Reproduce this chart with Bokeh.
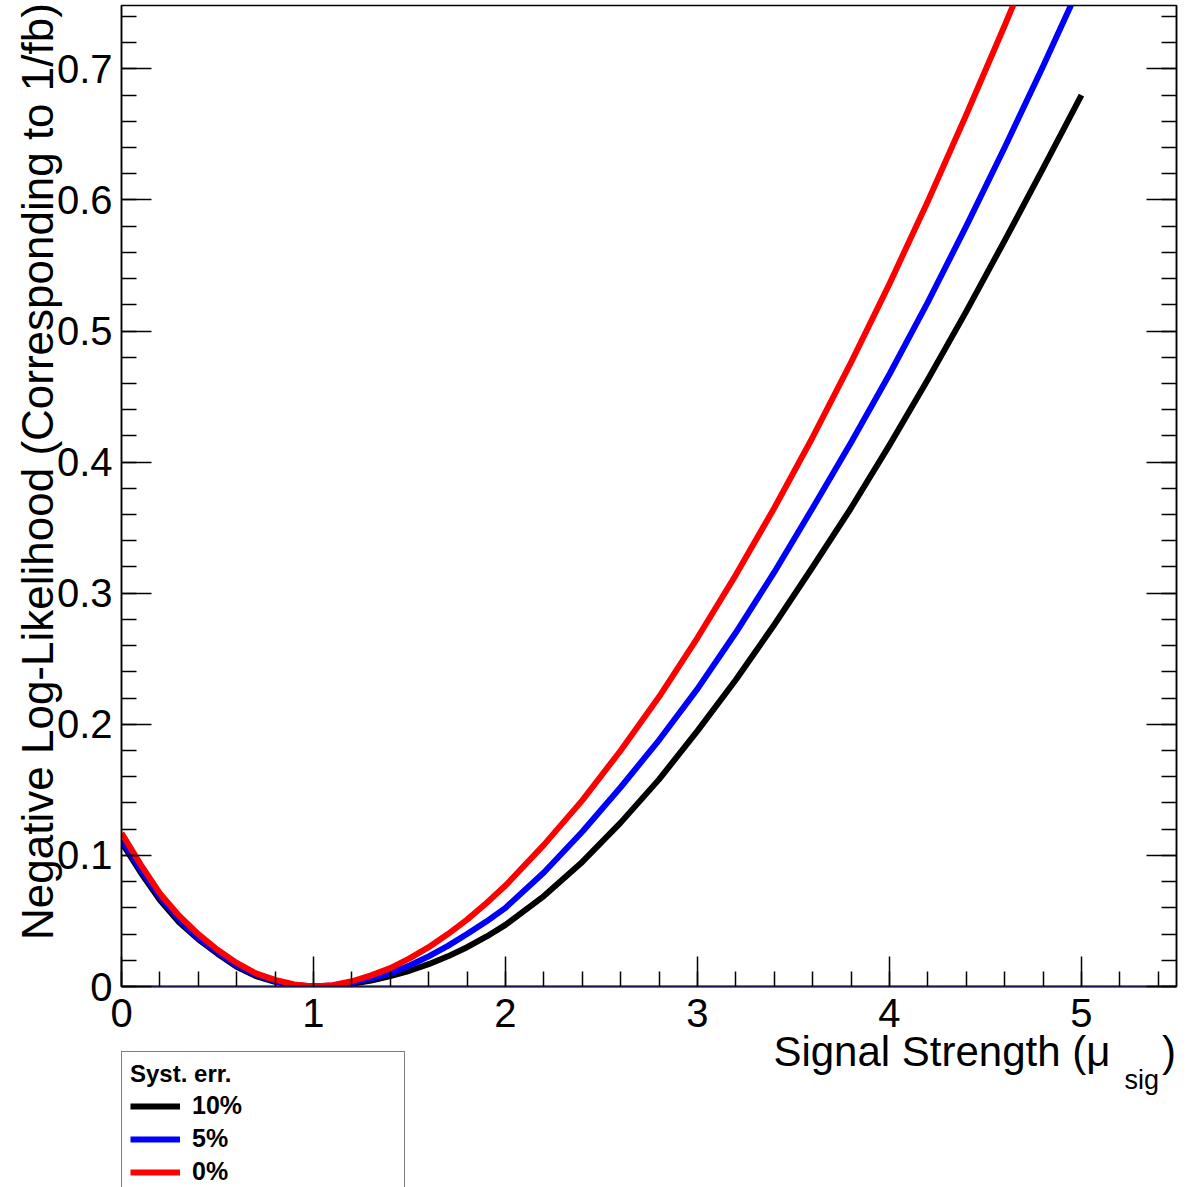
from bokeh.plotting import figure
from bokeh.layouts import column
from bokeh.models import (Range1d, LinearAxis, SingleIntervalTicker, Legend,
                          LegendItem, Label)
from bokeh.embed import file_html
from bokeh.resources import INLINE

# ---- data ----
mu = [0.0, 0.1, 0.2, 0.3, 0.4, 0.5, 0.6, 0.7, 0.8, 0.9, 1.0,
      1.1, 1.2, 1.3, 1.4, 1.5, 1.6, 1.7, 1.8, 1.9, 2.0,
      2.2, 2.4, 2.6, 2.8, 3.0, 3.2, 3.4, 3.6, 3.8, 4.0,
      4.2, 4.4, 4.6, 4.8, 5.0]

nll_syst10 = [0.110, 0.087, 0.066, 0.049, 0.036, 0.025, 0.015, 0.008, 0.0035, 0.001, 0.0,
              0.0005, 0.002, 0.0045, 0.008, 0.012, 0.017, 0.023, 0.030, 0.038, 0.047,
              0.069, 0.095, 0.125, 0.158, 0.195, 0.234, 0.276, 0.320, 0.365, 0.413,
              0.463, 0.515, 0.569, 0.624, 0.680]

nll_syst5 = [0.112, 0.089, 0.068, 0.051, 0.037, 0.026, 0.016, 0.009, 0.004, 0.001, 0.0,
             0.0008, 0.003, 0.006, 0.010, 0.016, 0.023, 0.031, 0.040, 0.0495, 0.060,
             0.087, 0.118, 0.152, 0.188, 0.227, 0.270, 0.316, 0.365, 0.415, 0.467,
             0.522, 0.580, 0.640, 0.702, 0.766]

nll_syst0 = [0.117, 0.093, 0.071, 0.054, 0.040, 0.028, 0.018, 0.010, 0.005, 0.0015, 0.0,
             0.001, 0.004, 0.0085, 0.014, 0.0215, 0.030, 0.040, 0.051, 0.0635, 0.077,
             0.108, 0.142, 0.180, 0.221, 0.266, 0.314, 0.365, 0.419, 0.476, 0.536,
             0.599, 0.665, 0.733, 0.803, 0.875]

series_labels = ["10%", "5%", "0%"]
series_colors = ["#000000", "#0000ff", "#ff0000"]
legend_title = "Syst. err."
x_title = "Signal Strength (\u03bc"
x_title_sub = "sig"
x_title_close = ")"
y_title = "Negative Log-Likelihood (Corresponding to 1/fb)"

FONT = "Liberation Sans"
NBSP = "\u00a0"

# ---------------- main plot ----------------
H1 = 1044
p = figure(width=1199, height=H1, output_backend="svg", toolbar_location=None,
           title=None,
           x_range=Range1d(0, 5.495), y_range=Range1d(0, 0.7483),
           min_border_left=121, min_border_right=23, min_border_top=5,
           min_border_bottom=H1 - 986)
p.background_fill_color = "white"
p.border_fill_color = "white"
p.outline_line_color = "black"
p.outline_line_width = 1.5
p.xgrid.visible = False
p.ygrid.visible = False

xa = p.xaxis[0]
xa.ticker = SingleIntervalTicker(interval=1, num_minor_ticks=5)
xa.major_tick_in = 30
xa.major_tick_out = 0
xa.minor_tick_in = 15
xa.minor_tick_out = 0
xa.major_tick_line_width = 1.5
xa.minor_tick_line_width = 1.5
xa.axis_line_color = "#1a1a4d"
xa.axis_line_width = 2
xa.major_label_text_font = FONT
xa.major_label_text_font_size = "40px"
xa.major_label_text_color = "black"
xa.major_label_standoff = 12

ya = p.yaxis[0]
ya.ticker = SingleIntervalTicker(interval=0.1, num_minor_ticks=5)
ya.major_tick_in = 30
ya.major_tick_out = 0
ya.minor_tick_in = 15
ya.minor_tick_out = 0
ya.major_tick_line_width = 1.5
ya.minor_tick_line_width = 1.5
ya.axis_line_width = 1.5
ya.major_label_text_font = FONT
ya.major_label_text_font_size = "40px"
ya.major_label_text_color = "black"
ya.major_label_standoff = 9
ya.major_label_overrides = {0: "0"}
# leading no-break spaces push the centred title up to the top end of the axis
ya.axis_label = NBSP * 4 + y_title
ya.axis_label_text_font = FONT
ya.axis_label_text_font_size = "44px"
ya.axis_label_text_font_style = "normal"
ya.axis_label_text_color = "black"
ya.axis_label_standoff = -8

ra = LinearAxis(ticker=SingleIntervalTicker(interval=0.1, num_minor_ticks=5),
                major_tick_in=30, major_tick_out=0, minor_tick_in=15, minor_tick_out=0,
                major_tick_line_width=1.5, minor_tick_line_width=1.5,
                axis_line_width=1.5,
                major_label_text_font_size="0px", major_label_text_color=None,
                major_label_standoff=0)
p.add_layout(ra, "right")

for ys, col in zip([nll_syst10, nll_syst5, nll_syst0], series_colors):
    p.line(mu, ys, line_color=col, line_width=6, line_join="round")

# ---------------- lower strip (transparent, overlaps the tick-label band) ----------------
TOP2 = 1015            # page y of the strip's top edge
BORDER2 = 15           # top border the strip keeps above its frame
FTOP = TOP2 + BORDER2  # page y of the strip's frame top
H2 = 1187 - TOP2
p2 = figure(width=1199, height=H2, output_backend="svg", toolbar_location=None,
            title=None, x_range=p.x_range, y_range=Range1d(1187 - FTOP, 0),
            x_axis_location=None, y_axis_location=None,
            min_border=0, min_border_left=0, min_border_right=0,
            min_border_top=0, min_border_bottom=0,
            margin=(TOP2 - H1, 0, 0, 0))
p2.grid.visible = False
p2.outline_line_color = None
p2.background_fill_alpha = 0
p2.border_fill_alpha = 0

rs2 = []
for ys, col in zip([nll_syst10, nll_syst5, nll_syst0], series_colors):
    rs2.append(p2.line(mu, ys, line_color=col, line_width=6, visible=False))

legend = Legend(items=[LegendItem(label=lab, renderers=[r])
                       for lab, r in zip(series_labels, rs2)],
                location=(0, -8), title=legend_title,
                padding=8, spacing=4, margin=0,
                glyph_width=50, glyph_height=20, label_standoff=12,
                label_height=20, label_width=204,
                border_line_color="black", border_line_width=1.5,
                background_fill_color="white", background_fill_alpha=1.0,
                title_text_font=FONT, title_text_font_size="24px",
                title_text_font_style="bold", title_text_color="black",
                title_standoff=3,
                label_text_font=FONT, label_text_font_size="25px",
                label_text_font_style="bold", label_text_color="black")
p2.add_layout(legend)

p2.add_layout(Label(x=5.151, y=1063 - FTOP, text=x_title, text_font=FONT,
                    text_font_size="42px", text_align="right", text_color="black",
                    text_baseline="alphabetic"))
p2.add_layout(Label(x=5.224, y=1089 - FTOP, text=x_title_sub, text_font=FONT,
                    text_font_size="27px", text_align="left", text_color="black",
                    text_baseline="alphabetic"))
p2.add_layout(Label(x=5.42, y=1063 - FTOP, text=x_title_close, text_font=FONT,
                    text_font_size="42px", text_align="left", text_color="black",
                    text_baseline="alphabetic"))

layout = column(p, p2, spacing=0)
open("out.html", "w").write(file_html(layout, INLINE))
